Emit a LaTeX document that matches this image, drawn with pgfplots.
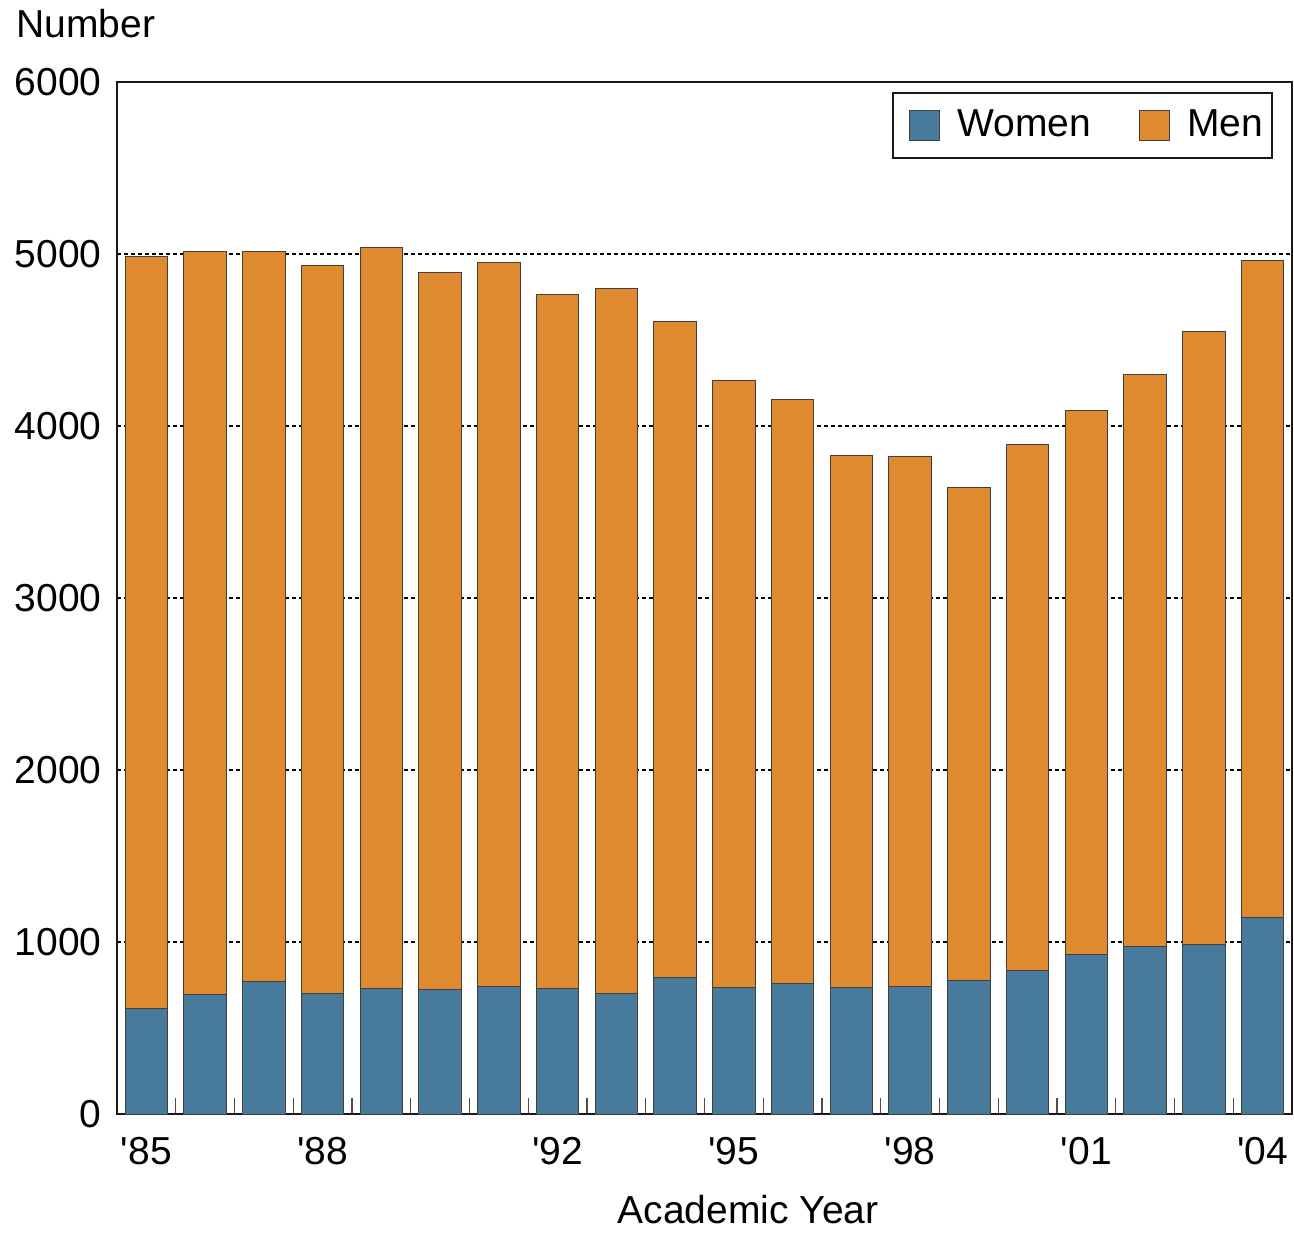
\documentclass[border=0pt]{standalone}
\usepackage{pgfplots}
\pgfplotsset{compat=1.18}
\usepackage{fontspec}
\setmainfont{Liberation Sans}
\definecolor{women}{RGB}{72,123,155}
\definecolor{men}{RGB}{224,138,48}
\newcommand{\q}{\textquotesingle}
\begin{document}
\fontsize{19.5}{23}\selectfont
\begin{tikzpicture}
\useasboundingbox (-58.5pt,-59pt) rectangle (588.5pt,557pt);
\begin{axis}[
  at={(0,0)}, anchor=south west,
  scale only axis, width=587.5pt, height=516pt,
  xmin=1984.5, xmax=2004.5, ymin=0, ymax=6000,
  ybar stacked, bar width=0.72,
  xtick={1985,1988,1992,1995,1998,2001,2004},
  xticklabels={\q85,\q88,\q92,\q95,\q98,\q01,\q04},
  minor xtick={1985.5,1986.5,...,2003.5},
  xtick pos=bottom,
  ytick pos=left,
  major tick length=0pt,
  minor tick length=8pt,
  tick align=inside,
  tick style={black!70, line width=0.6pt},
  ytick={0,1000,...,6000},
  yticklabel style={/pgf/number format/1000 sep={}},
  /pgf/number format/assume math mode=true,
  ymajorgrids,
  grid style={black, line width=0.6pt, dash pattern=on 2pt off 1.5pt},
  axis line style={black!90, line width=1.2pt},
  xticklabel style={yshift=-5pt},
  yticklabel style={xshift=-1pt},
  xlabel={Academic Year},
  xlabel style={at={(axis description cs:0.537,0)}, anchor=north, yshift=-34pt},
  legend columns=2,
  legend style={at={(0.984,0.99)}, anchor=north east, draw=black!90, line width=1pt,
    /tikz/every even column/.append style={column sep=20pt},
    inner xsep=4.5pt, inner ysep=6pt,
    nodes={inner xsep=0pt}},
  legend image code/.code={\path[draw=none,fill=none] (-4pt,0pt) -- (24pt,0pt);
    \draw[#1, line width=0.5pt] (0pt,-7.5pt) rectangle (15pt,7.5pt);},
]
\addplot[fill=women, draw=black!75, line width=0.5pt] coordinates {
(1985,616) (1986,692) (1987,773) (1988,703) (1989,727) (1990,721) (1991,744)
(1992,727) (1993,703) (1994,791) (1995,733) (1996,756) (1997,738) (1998,744)
(1999,779) (2000,837) (2001,930) (2002,971) (2003,988) (2004,1145)};
\addplot[fill=men, draw=black!75, line width=0.5pt] coordinates {
(1985,4367) (1986,4320) (1987,4239) (1988,4233) (1989,4308) (1990,4174) (1991,4204)
(1992,4040) (1993,4094) (1994,3819) (1995,3529) (1996,3401) (1997,3088) (1998,3076)
(1999,2866) (2000,3058) (2001,3163) (2002,3331) (2003,3564) (2004,3820)};
\legend{Women,Men}
\end{axis}
\node[anchor=west] at (-57pt,545pt) {Number};
\end{tikzpicture}
\end{document}
